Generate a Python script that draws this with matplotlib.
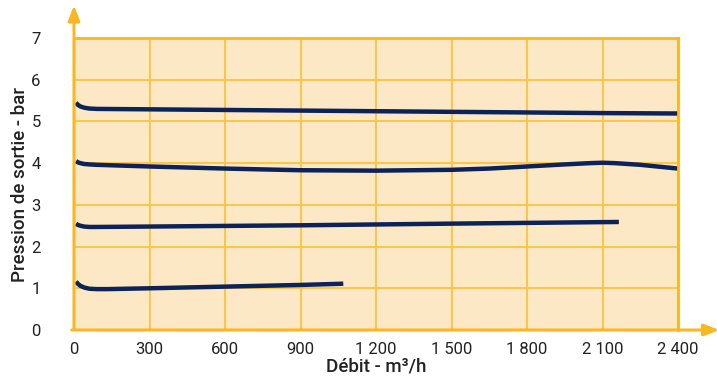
import matplotlib
matplotlib.use("Agg")
import matplotlib.pyplot as plt

plt.rcParams['font.family'] = ['Roboto', 'DejaVu Sans']

# courbes pression de sortie (bar) vs debit (m3/h)
debit_55 = [8, 15, 25, 40, 60, 90, 300, 900, 1500, 2100, 2400]
press_55 = [5.45, 5.40, 5.36, 5.33, 5.31, 5.30, 5.29, 5.26, 5.23, 5.20, 5.19]

debit_40 = [8, 15, 25, 40, 60, 90, 300, 600, 900, 1200, 1500, 1650, 1800, 1950, 2050, 2100, 2150, 2250, 2400]
press_40 = [4.05, 4.02, 4.00, 3.98, 3.97, 3.96, 3.92, 3.87, 3.83, 3.82, 3.84, 3.87, 3.92, 3.97, 4.00, 4.01, 4.00, 3.96, 3.87]

debit_25 = [8, 15, 25, 40, 60, 90, 300, 900, 1500, 2165]
press_25 = [2.55, 2.52, 2.50, 2.48, 2.47, 2.47, 2.48, 2.51, 2.55, 2.59]

debit_10 = [8, 15, 25, 40, 60, 90, 130, 300, 600, 900, 1070]
press_10 = [1.16, 1.11, 1.06, 1.02, 0.99, 0.98, 0.98, 1.00, 1.04, 1.08, 1.11]

xticks = [0, 300, 600, 900, 1200, 1500, 1800, 2100, 2400]
xlabels = ['0', '300', '600', '900', '1 200', '1 500', '1 800', '2 100', '2 400']
yticks = [0, 1, 2, 3, 4, 5, 6, 7]

orange = '#FBB621'
grid_col = '#FCC64A'
fond = '#FDE8C6'
navy = '#0B2358'
txt = '#222222'

fig = plt.figure(figsize=(7.17, 3.82), dpi=100)
ax = fig.add_axes([74 / 717, 52 / 382, 604 / 717, 292 / 382])
ax.set_facecolor(fond)
ax.set_xlim(0, 2400)
ax.set_ylim(0, 7)

for x in xticks[1:]:
    ax.axvline(x, color=grid_col, lw=1.4, zorder=1)
for y in yticks[1:]:
    ax.axhline(y, color=grid_col, lw=1.4, zorder=1)

for d, p in [(debit_55, press_55), (debit_40, press_40), (debit_25, press_25), (debit_10, press_10)]:
    ax.plot(d, p, color=navy, lw=3.2, solid_capstyle='butt', solid_joinstyle='round', zorder=3)

for s in ax.spines.values():
    s.set_visible(False)
ax.set_xticks(xticks)
ax.set_xticklabels(xlabels)
ax.set_yticks(yticks)
ax.tick_params(length=0, labelsize=12, colors=txt)
ax.tick_params(axis='x', pad=9)
ax.tick_params(axis='y', pad=24)

# axes avec fleches
ax.annotate('', xy=(0, 7.85), xytext=(0, -0.05), xycoords='data', annotation_clip=False,
            arrowprops=dict(arrowstyle='-|>,head_length=0.9,head_width=0.35', color=orange, lw=2.2))
ax.annotate('', xy=(2575, 0), xytext=(-20, 0), xycoords='data', annotation_clip=False,
            arrowprops=dict(arrowstyle='-|>,head_length=0.9,head_width=0.35', color=orange, lw=2.2))
ax.plot([0, 2400], [7, 7], color=orange, lw=2, zorder=4, clip_on=False)
ax.plot([2400, 2400], [0, 7], color=orange, lw=2, zorder=4, clip_on=False)

ax.set_xlabel('Débit - m³/h', fontsize=13.5, fontweight='medium', color=txt, labelpad=0)
ax.set_ylabel('Pression de sortie - bar', fontsize=13.5, fontweight='medium', color=txt, labelpad=2)

fig.savefig('out.png', dpi=100)
